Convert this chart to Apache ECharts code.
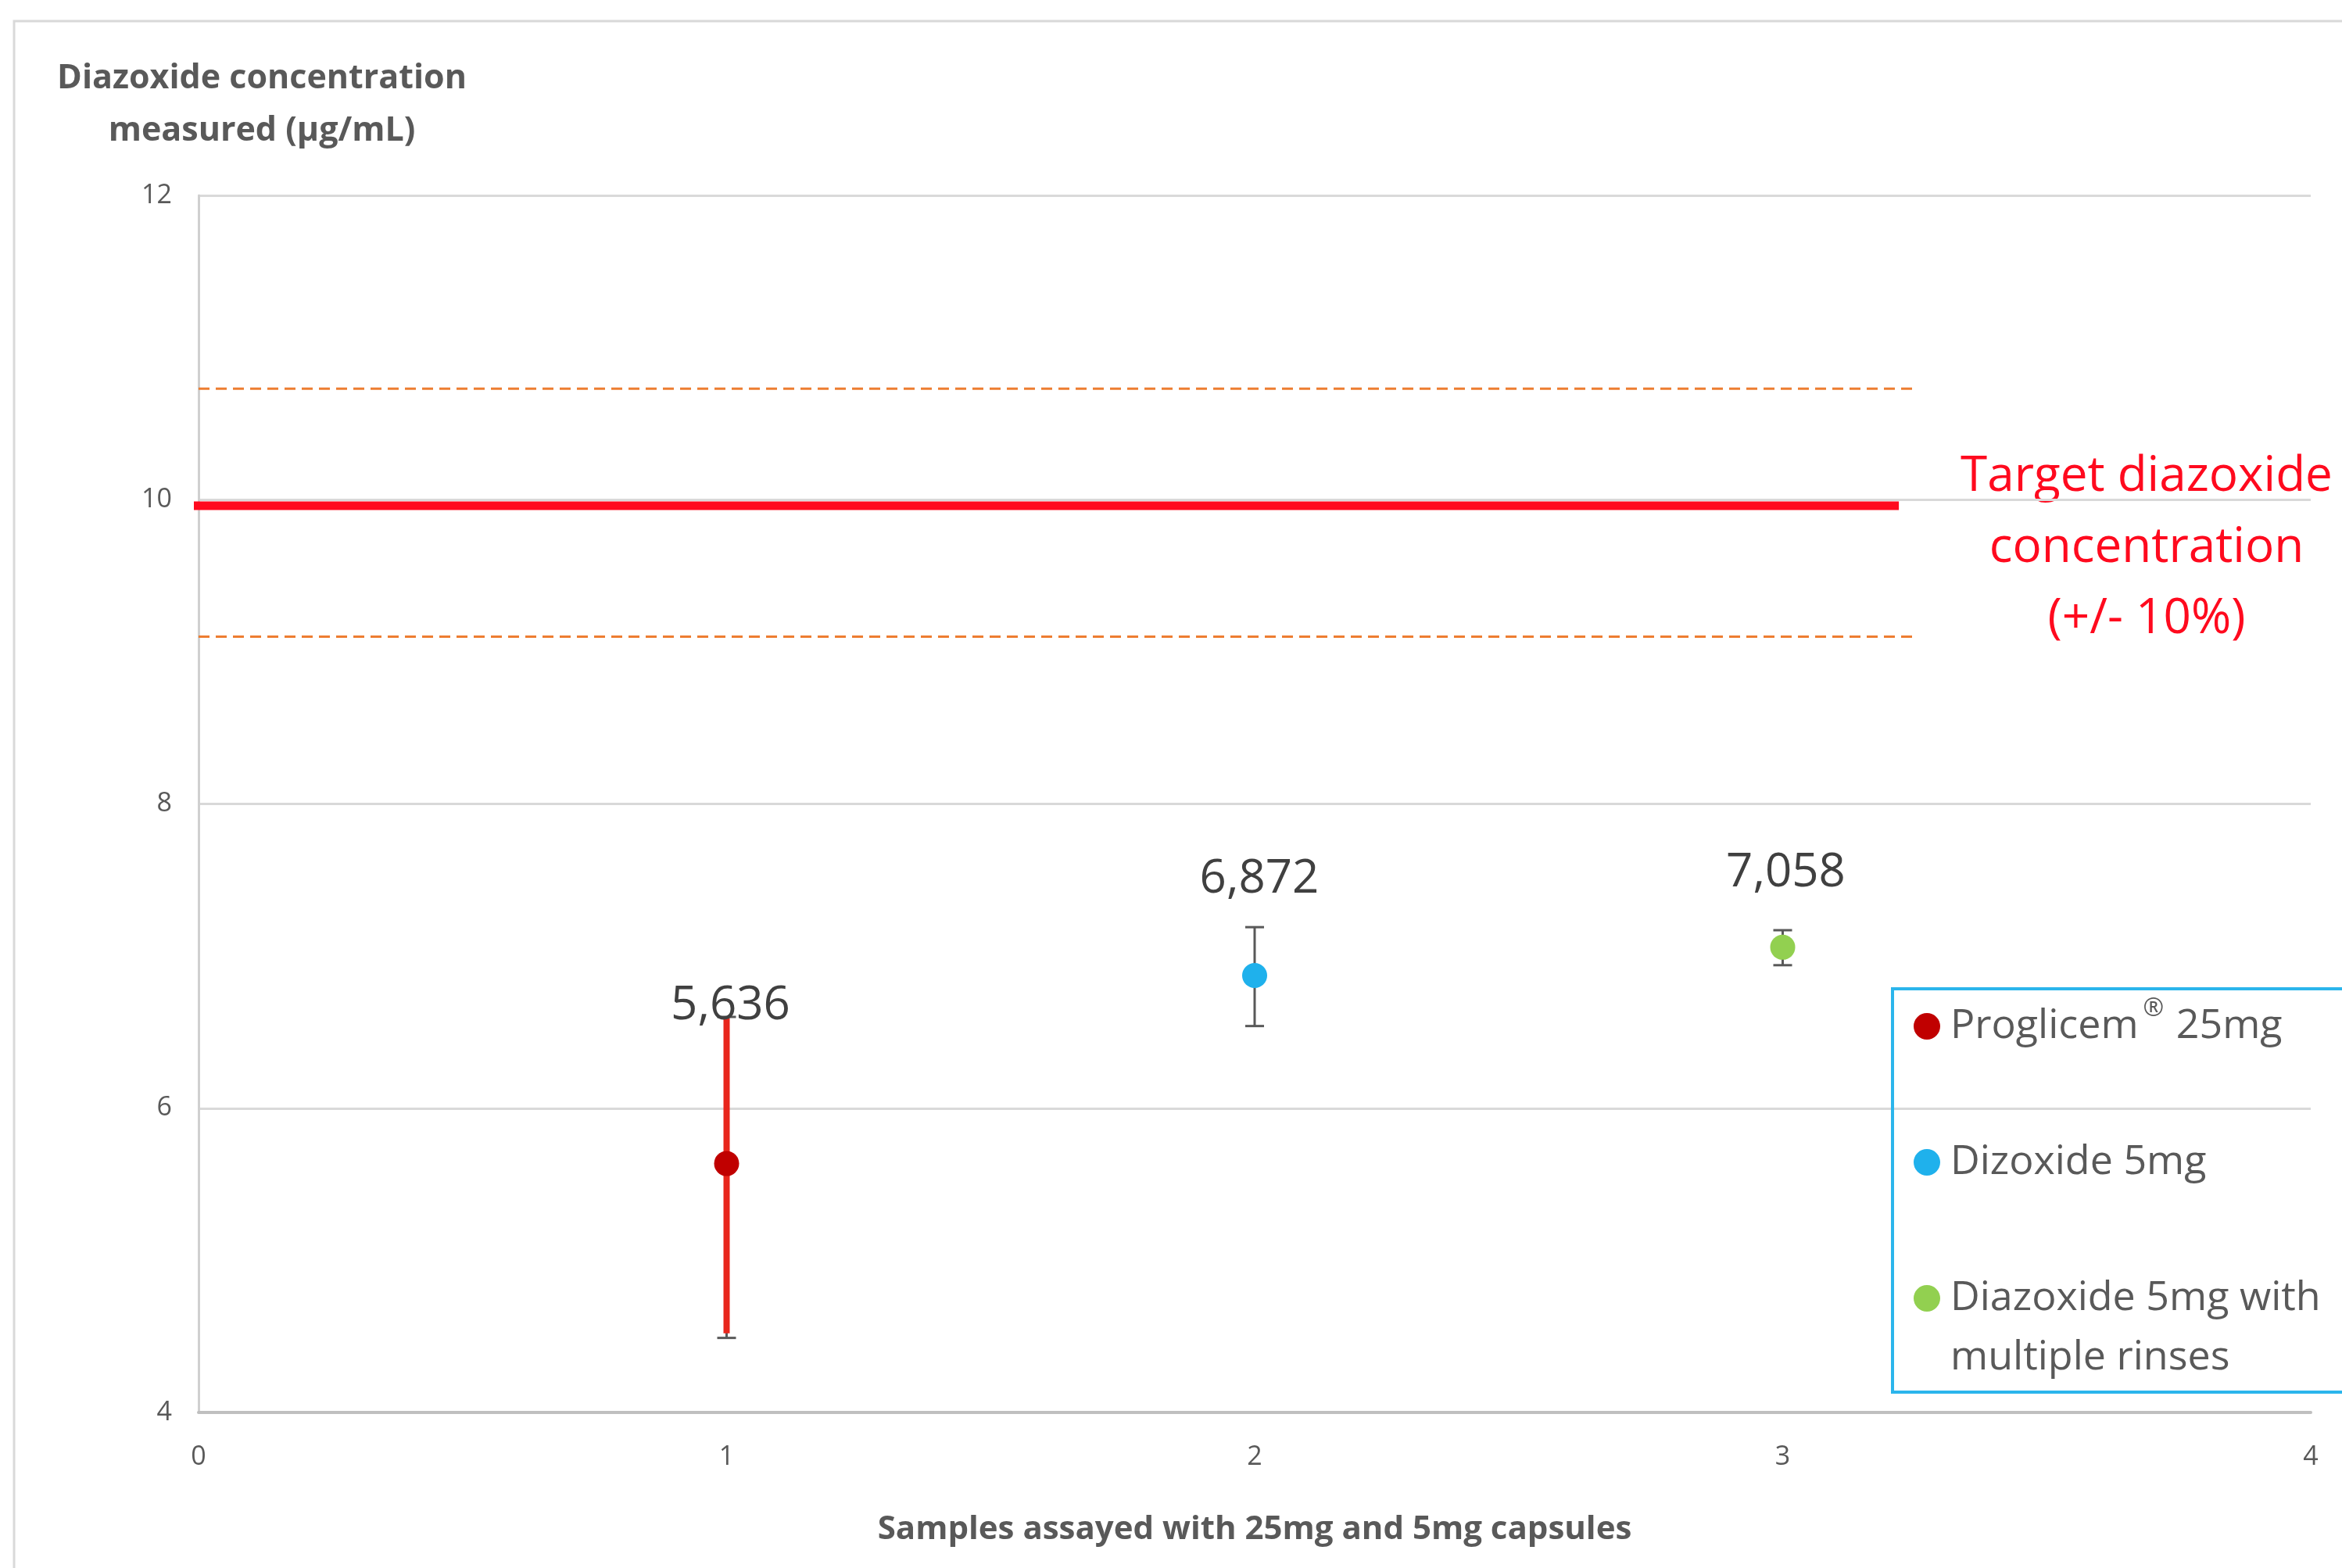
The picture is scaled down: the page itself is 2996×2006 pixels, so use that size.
<!DOCTYPE html>
<html><head><meta charset="utf-8">
<script src="https://cdn.jsdelivr.net/npm/echarts@6/dist/echarts.min.js"></script>
<style>html,body{margin:0;padding:0;background:#fff}#c{width:2996px;height:2006px}</style>
</head><body><div id="c"></div>
<script>
// ---- data ----
const seriesNames = ['Proglicem® 25mg', 'Dizoxide 5mg', 'Diazoxide 5mg with multiple rinses'];
const sampleX = [1, 2, 3];
const meanValues = [5.636, 6.872, 7.058];
const valueLabels = ['5,636', '6,872', '7,058'];
const errLow = [4.49, 6.54, 6.94];
const errHigh = [6.60, 7.19, 7.17];
const redBarRange = [4.52, 6.59];
const targetValue = 9.96;
const targetXRange = [-0.02, 3.22];
const upperLimit = 10.73;
const lowerLimit = 9.10;
const limitXRange = [0, 3.25];
const xTicks = [0, 1, 2, 3, 4];
const yTicks = [4, 6, 8, 10, 12];
const yAxisTitle = 'Diazoxide concentration\nmeasured (µg/mL)';
const xAxisTitle = 'Samples assayed with 25mg and 5mg capsules';
const targetText = 'Target diazoxide\nconcentration\n(+/- 10%)';

// ---- styles ----
const colors = ['#C00000', '#1FB1EC', '#92D050'];
const labelOffsets = [[5, -202], [6, -123], [4, -95]];
const FONT = '"Open Sans", "Noto Sans", sans-serif';

const chart = echarts.init(document.getElementById('c'), null, {renderer: 'canvas'});

const scatterSeries = seriesNames.map((name, i) => ({
  name: name,
  type: 'scatter',
  z: 5,
  symbol: 'circle',
  symbolSize: 32,
  itemStyle: {color: colors[i], opacity: 1},
  data: [[sampleX[i], meanValues[i]]],
  label: {
    show: true,
    position: 'inside',
    offset: labelOffsets[i],
    formatter: () => valueLabels[i],
    fontFamily: FONT,
    fontSize: 60,
    color: '#404040'
  },
  emphasis: {disabled: true}
}));

function renderErr(params, api) {
  const x = api.value(0), lo = api.value(1), hi = api.value(2);
  const pLo = api.coord([x, lo]), pHi = api.coord([x, hi]);
  const w = 12;
  const style = {stroke: '#595959', lineWidth: 3};
  return {type: 'group', children: [
    {type: 'line', shape: {x1: pLo[0], y1: pLo[1], x2: pHi[0], y2: pHi[1]}, style: style},
    {type: 'line', shape: {x1: pLo[0] - w, y1: pLo[1], x2: pLo[0] + w, y2: pLo[1]}, style: style},
    {type: 'line', shape: {x1: pHi[0] - w, y1: pHi[1], x2: pHi[0] + w, y2: pHi[1]}, style: style}
  ]};
}

const option = {
  backgroundColor: '#ffffff',
  animation: false,
  grid: {left: 254, right: 40, top: 250, bottom: 199, containLabel: false},
  xAxis: {
    type: 'value', min: xTicks[0], max: xTicks[xTicks.length - 1], interval: 1,
    name: xAxisTitle, nameLocation: 'middle', nameGap: 129,
    nameTextStyle: {fontFamily: FONT, fontSize: 42, fontWeight: 'bold', color: '#595959'},
    axisLine: {show: true, onZero: false, lineStyle: {color: '#BFBFBF', width: 4}},
    axisTick: {show: false},
    splitLine: {show: false},
    axisLabel: {margin: 40, fontFamily: FONT, fontSize: 34, color: '#595959'}
  },
  yAxis: {
    type: 'value', min: yTicks[0], max: yTicks[yTicks.length - 1], interval: 2,
    axisLine: {show: true, lineStyle: {color: '#D0D0D0', width: 3}},
    axisTick: {show: false},
    splitLine: {show: true, lineStyle: {color: '#D9D9D9', width: 3}},
    axisLabel: {margin: 34, fontFamily: FONT, fontSize: 34, color: '#595959'}
  },
  legend: {
    data: seriesNames,
    orient: 'vertical',
    left: 2421, top: 1199,
    padding: [0, 0, 0, 27],
    itemGap: -54,
    itemWidth: 34, itemHeight: 34,
    icon: 'circle',
    selectedMode: false,
    borderWidth: 0,
    formatter: function (name) {
      if (name === seriesNames[0]) return '{t|}\n{t|Proglicem}{s|®}{t| 25mg}\n{t|}';
      if (name === seriesNames[2]) return '{t|}\n{t|Diazoxide 5mg with}\n{t|multiple rinses}';
      return '{t|}\n{t|' + name + '}\n{t|}';
    },
    textStyle: {
      fontFamily: FONT, fontSize: 52, color: '#595959', lineHeight: 76, padding: [0, 0, 0, 8],
      rich: {
        t: {fontFamily: FONT, fontSize: 52, color: '#595959', lineHeight: 76},
        s: {fontFamily: FONT, fontSize: 32, color: '#595959', lineHeight: 76, verticalAlign: 'top', padding: [0, 2, 20, 6]}
      }
    }
  },
  graphic: [
    {type: 'rect', silent: true, z: -10, shape: {x: 18, y: 27, width: 4000, height: 4000},
     style: {fill: 'none', stroke: '#D9D9D9', lineWidth: 3}},
    {type: 'rect', silent: true, z: 10, shape: {x: 2421, y: 1265, width: 700, height: 516},
     style: {fill: 'none', stroke: '#2BB5EC', lineWidth: 4}},
    {type: 'text', silent: true, x: 335, y: 101 - 33.5,
     style: {text: yAxisTitle, fontFamily: FONT, fontSize: 43, fontWeight: 'bold', fill: '#595959',
             lineHeight: 67, textAlign: 'center', textVerticalAlign: 'top'}},
    {type: 'text', silent: true, x: 2746, y: 610 - 45.5,
     style: {text: targetText, fontFamily: FONT, fontSize: 62, fontWeight: 500, fill: '#FF0A1E',
             lineHeight: 91, textAlign: 'center', textVerticalAlign: 'top'}}
  ],
  series: [
    {
      name: 'upper', type: 'line', symbol: 'none', silent: true, z: 2,
      lineStyle: {color: '#ED7D31', width: 3, type: [14, 8]},
      data: [[limitXRange[0], upperLimit], [limitXRange[1], upperLimit]]
    },
    {
      name: 'lower', type: 'line', symbol: 'none', silent: true, z: 2,
      lineStyle: {color: '#ED7D31', width: 3, type: [14, 8]},
      data: [[limitXRange[0], lowerLimit], [limitXRange[1], lowerLimit]]
    },
    {
      name: 'target', type: 'line', symbol: 'none', silent: true, z: 3, clip: false,
      lineStyle: {color: '#FF0A1E', width: 11},
      data: [[targetXRange[0], targetValue], [targetXRange[1], targetValue]]
    },
    {
      name: 'errors', type: 'custom', z: 3, silent: true,
      renderItem: renderErr,
      data: sampleX.map((x, i) => [x, errLow[i], errHigh[i]])
    },
    {
      name: 'redbar', type: 'line', symbol: 'none', silent: true, z: 4,
      lineStyle: {color: '#E8261C', width: 8},
      data: [[sampleX[0], redBarRange[0]], [sampleX[0], redBarRange[1]]]
    }
  ].concat(scatterSeries)
};
chart.setOption(option);
</script>
</body></html>
